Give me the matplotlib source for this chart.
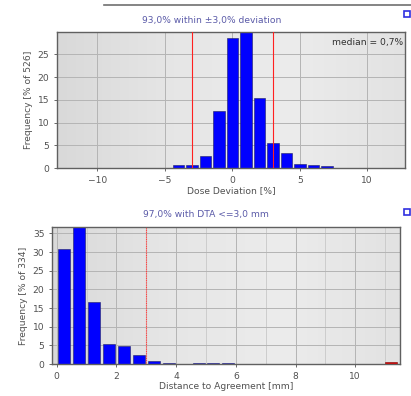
import numpy as np
import matplotlib.pyplot as plt
from matplotlib.patches import Rectangle
from matplotlib.lines import Line2D

# dose deviation histogram (bin centres in %, frequency in % of 526)
dd_centers = [-4, -3, -2, -1, 0, 1, 2, 3, 4, 5, 6, 7]
dd_freq = [0.6, 0.7, 2.6, 12.5, 28.6, 30.0, 15.3, 5.4, 3.4, 0.95, 0.6, 0.4]
dd_title = "93,0% within \u00b13,0% deviation"
dd_median = "median = 0,7%"
dd_limits = [-3, 3]

# distance to agreement histogram (bin centres in mm, frequency in % of 334)
dta_centers = [0.25, 0.75, 1.25, 1.75, 2.25, 2.75, 3.25, 3.75, 4.25, 4.75, 5.25, 5.75, 6.25]
dta_freq = [30.8, 37.0, 16.6, 5.4, 4.75, 2.3, 0.9, 0.25, 0.1, 0.15, 0.15, 0.15, 0.12]
dta_over_x = [11.2]
dta_over_freq = [0.5]
dta_title = "97,0% with DTA <=3,0 mm"
dta_limit = 3

TITLE_C = "#5a5aa8"
TEXT_C = "#505050"
FS = 6.6

W, H = 411, 396
fig = plt.figure(figsize=(W / 100, H / 100), dpi=100)
fig.patch.set_facecolor("white")


def fx(px):
    return px / W


def fy(py):
    return 1 - py / H


def style_axes(ax):
    grad = np.linspace(0, 1, 256).reshape(1, -1)
    ax.imshow(grad, cmap=plt.matplotlib.colors.LinearSegmentedColormap.from_list(
        "g", ["#d9d9d9", "#e6e6e6", "#ececec", "#e2e2e2"]),
        extent=[0, 1, 0, 1], transform=ax.transAxes, aspect="auto", zorder=0)
    for s in ax.spines.values():
        s.set_color("#606060")
        s.set_linewidth(1.0)
    ax.tick_params(labelsize=FS, colors=TEXT_C, length=2, width=0.6)
    ax.grid(True, color="#b4b4b4", linewidth=0.7, zorder=1)
    ax.set_axisbelow(True)


# top panel: dose deviation
ax1 = fig.add_axes([fx(57), fy(168), fx(405 - 57), (168 - 32) / H])
style_axes(ax1)
ax1.bar(dd_centers, dd_freq, width=0.85, color="#0000ff", edgecolor="#202060",
        linewidth=0.4, zorder=2)
for x in dd_limits:
    ax1.axvline(x, color="#ff2020", linewidth=0.8, zorder=5)
ax1.set_xlim(-13, 12.8)
ax1.set_ylim(0, 29.9)
ax1.set_xticks([-10, -5, 0, 5, 10])
ax1.set_yticks([0, 5, 10, 15, 20, 25])
ax1.set_xlabel("Dose Deviation [%]", fontsize=FS, color=TEXT_C, labelpad=1)
ax1.set_ylabel("Frequency [% of 526]", fontsize=FS, color=TEXT_C, labelpad=3)
ax1.text(0.995, 0.955, dd_median, transform=ax1.transAxes, ha="right", va="top",
         fontsize=FS, color="#303030", zorder=6)
fig.text(fx(212), fy(20), dd_title, ha="center", va="center", fontsize=FS, color=TITLE_C)

# bottom panel: distance to agreement
ax2 = fig.add_axes([fx(52), fy(364), fx(400 - 52), (364 - 227) / H])
style_axes(ax2)
ax2.set_xticks(range(1, 12, 2), minor=True)
ax2.grid(True, which="minor", axis="x", color="#c8c8c8", linewidth=0.6, zorder=1)
ax2.tick_params(which="minor", length=0)
ax2.bar(dta_centers, dta_freq, width=0.4, color="#0000ff", edgecolor="#202060",
        linewidth=0.4, zorder=2)
ax2.bar(dta_over_x, dta_over_freq, width=0.4, color="#dd0000", edgecolor="#800000",
        linewidth=0.4, zorder=2)
ax2.axvline(dta_limit, color="#ff4040", linewidth=0.8, linestyle=(0, (1, 0.6)), zorder=5)
ax2.set_xlim(-0.16, 11.5)
ax2.set_ylim(0, 36.7)
ax2.set_xticks([0, 2, 4, 6, 8, 10])
ax2.set_yticks([0, 5, 10, 15, 20, 25, 30, 35])
ax2.set_xlabel("Distance to Agreement [mm]", fontsize=FS, color=TEXT_C, labelpad=1)
ax2.set_ylabel("Frequency [% of 334]", fontsize=FS, color=TEXT_C, labelpad=3)
fig.text(fx(206), fy(215), dta_title, ha="center", va="center", fontsize=FS, color=TITLE_C)

# window decorations
fig.add_artist(Line2D([fx(104), 1.0], [fy(5), fy(5)], color="#707070", linewidth=1.2))
for top in (10, 208):
    fig.add_artist(Rectangle((fx(404), fy(top + 7)), fx(6), 6 / H, fill=False,
                             edgecolor="#3030e0", linewidth=1.2))

fig.savefig("out.png", dpi=100)
